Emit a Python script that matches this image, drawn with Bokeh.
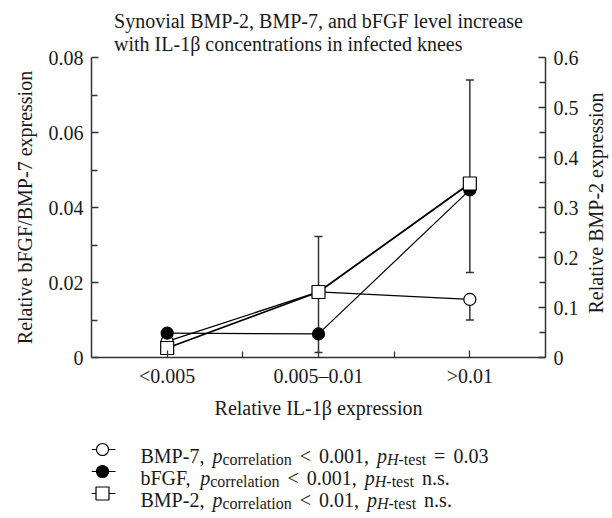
import math
from bokeh.plotting import figure
from bokeh.models import Range1d, LinearAxis, FixedTicker, Whisker, ColumnDataSource, TeeHead
from bokeh.layouts import column, row
from bokeh.embed import file_html
from bokeh.resources import INLINE
from bokeh.core.properties import value

# ---------------- data ----------------
categories = ["<0.005", "0.005\u20130.01", ">0.01"]
bmp7 = [0.0043, 0.0175, 0.0155]          # left axis
bfgf = [0.0065, 0.0063, 0.0447]          # left axis
bmp2 = [0.019, 0.131, 0.348]             # right axis
bmp2_err_hi = [None, 0.242, 0.555]
bmp2_err_lo = [None, 0.010, 0.170]
bmp7_err_lo = [None, None, 0.0100]

left_ticks = [0, 0.02, 0.04, 0.06, 0.08]
left_labels = ["0", "0.02", "0.04", "0.06", "0.08"]
right_ticks = [0, 0.1, 0.2, 0.3, 0.4, 0.5, 0.6]
right_labels = ["0", "0.1", "0.2", "0.3", "0.4", "0.5", "0.6"]

title_text = "Synovial BMP-2, BMP-7, and bFGF level increase\nwith IL-1\u03b2 concentrations in infected knees"
xlabel = "Relative IL-1\u03b2 expression"
ylabel_left = "Relative bFGF/BMP-7 expression"
ylabel_right = "Relative BMP-2 expression"

legend_names = ["BMP-7,", "bFGF,", "BMP-2,"]
legend_pcorr = ["< 0.001,", "< 0.001,", "< 0.01,"]
legend_htest = ["= 0.03", "n.s.", "n.s."]

FONT = "Liberation Serif"
INK = "#1a1a1a"
AX = "#333333"

xs = [i + 1 for i in range(len(categories))]

W, H_MAIN, H_LEG = 612, 427, 91
W_SIDE = 30                      # strip to the right carrying the right-axis title
BL, BR, BT, BB = 91, 67, 57, 70

# ---------------- main figure ----------------
p = figure(width=W - W_SIDE, height=H_MAIN, x_range=Range1d(0.5, 3.5), y_range=Range1d(0, 0.08),
           output_backend="svg", toolbar_location=None,
           min_border_left=BL, min_border_right=BR - W_SIDE, min_border_top=BT, min_border_bottom=BB)
p.extra_y_ranges = {"right": Range1d(0, 0.6)}
p.add_layout(LinearAxis(y_range_name="right"), "right")

p.outline_line_color = None
p.xgrid.visible = False
p.ygrid.visible = False

p.title.text = title_text
p.title.align = "center"
p.title.text_font = FONT
p.title.text_font_size = "20px"
p.title.text_font_style = "normal"
p.title.text_color = INK
p.title.text_line_height = 1.05
p.title.standoff = 4

for ax in p.axis:
    ax.axis_line_color = AX
    ax.axis_line_width = 1.5
    ax.major_tick_line_color = AX
    ax.minor_tick_line_color = AX
    ax.major_tick_line_width = 1.3
    ax.minor_tick_line_width = 1.3
    ax.major_tick_in = 7
    ax.major_tick_out = 0
    ax.minor_tick_in = 6
    ax.minor_tick_out = 0
    ax.major_label_text_font = FONT
    ax.major_label_text_font_size = "20px"
    ax.major_label_text_color = INK
    ax.axis_label_text_font = FONT
    ax.axis_label_text_font_size = "20px"
    ax.axis_label_text_font_style = "normal"
    ax.axis_label_text_color = INK

xa = p.xaxis[0]
xa.ticker = FixedTicker(ticks=xs, minor_ticks=[1.5, 2.5])
xa.major_label_overrides = {x: c for x, c in zip(xs, categories)}
xa.axis_label = xlabel
xa.major_label_standoff = 7
xa.axis_label_standoff = 7

la = p.yaxis[0]
la.ticker = FixedTicker(ticks=left_ticks, minor_ticks=[0.01, 0.03, 0.05, 0.07])
la.major_label_overrides = {t: l for t, l in zip(left_ticks, left_labels)}
la.axis_label = ylabel_left
la.major_label_standoff = 8
la.axis_label_standoff = 10

ra = p.yaxis[1]
ra.ticker = FixedTicker(ticks=right_ticks, minor_ticks=[0.05, 0.15, 0.25, 0.35, 0.45, 0.55])
ra.major_label_overrides = {t: l for t, l in zip(right_ticks, right_labels)}
ra.major_label_standoff = 8

# error bars
def pts(vals_hi, vals_lo, centers):
    X, Hh, L = [], [], []
    for x, h, l, c in zip(xs, vals_hi, vals_lo, centers):
        if h is None and l is None:
            continue
        X.append(x)
        Hh.append(c if h is None else h)
        L.append(c if l is None else l)
    return ColumnDataSource(dict(x=X, hi=Hh, lo=L))

w2 = Whisker(base="x", upper="hi", lower="lo", source=pts(bmp2_err_hi, bmp2_err_lo, bmp2),
             y_range_name="right", line_color=AX, line_width=1.5,
             upper_head=TeeHead(size=8, line_color=AX, line_width=1.5),
             lower_head=TeeHead(size=8, line_color=AX, line_width=1.5))
p.add_layout(w2)
w7 = Whisker(base="x", upper="hi", lower="lo", source=pts([None] * 3, bmp7_err_lo, bmp7),
             line_color=AX, line_width=1.5, upper_head=None,
             lower_head=TeeHead(size=8, line_color=AX, line_width=1.5))
p.add_layout(w7)

# lines
p.line(xs, bfgf, line_color="black", line_width=1.2)
p.line(xs, bmp7, line_color="black", line_width=1.3)
p.line(xs, bmp2, line_color="black", line_width=1.8, y_range_name="right")

# markers
p.scatter(xs, bmp7, marker="circle", size=12, fill_color="white", line_color="black", line_width=1.2)
p.scatter(xs, bfgf, marker="circle", size=12, fill_color="black", line_color="black", line_width=1.2)
p.scatter(xs, bmp2, marker="square", size=13, fill_color="white", line_color="black", line_width=1.2,
          y_range_name="right")

# ---------------- right strip: right-axis title ----------------
side = figure(width=W_SIDE, height=H_MAIN, x_range=Range1d(0, W_SIDE), y_range=Range1d(0, H_MAIN),
              output_backend="svg", toolbar_location=None,
              x_axis_location=None, y_axis_location=None, min_border=0)
side.xgrid.visible = False
side.ygrid.visible = False
side.outline_line_color = None
frame_mid = BB + (H_MAIN - BT - BB) / 2.0
side.text(x=[13], y=[frame_mid], text=[ylabel_right], angle=math.pi / 2,
          text_align="center", text_baseline="middle", text_font=value(FONT),
          text_font_size="20px", text_color=INK)

# ---------------- legend figure ----------------
frame_w = W - BL - BR
leg = figure(width=W, height=H_LEG, x_range=Range1d(0, frame_w), y_range=Range1d(0, H_LEG),
             output_backend="svg", toolbar_location=None,
             x_axis_location=None, y_axis_location=None,
             min_border_left=BL, min_border_right=BR, min_border_top=0, min_border_bottom=0)
leg.xgrid.visible = False
leg.ygrid.visible = False
leg.outline_line_color = None

W_REG = {"B": 667, "M": 889, "P": 556, "-": 333, "7": 500, ",": 250, " ": 250, "b": 500,
         "F": 556, "G": 722, "c": 444, "o": 500, "r": 333, "e": 444, "l": 278, "a": 444,
         "t": 278, "i": 278, "n": 500, "<": 564, "0": 500, ".": 250, "1": 500, "=": 564,
         "3": 500, "s": 389, "2": 500, "H": 722, "p": 500}
W_IT = {"p": 500, "H": 722}

def tw(s, size, italic=False):
    tab = W_IT if italic else W_REG
    return sum(tab.get(ch, W_REG.get(ch, 500)) for ch in s) * size / 1000.0

FS, SS, GAP = 20, 16, 8
row_centers = [69, 47, 25]          # legend-figure pixels from its bottom
mk_x0, mk_x1, mk_c, tx0 = 0, 24, 11, 49
markers = [("circle", "white", 12), ("circle", "black", 12), ("square", "white", 13)]

pieces = dict(x=[], y=[], text=[], size=[], style=[])
for name, pc, ht, yc in zip(legend_names, legend_pcorr, legend_htest, row_centers):
    base = yc - 6
    sub = base - 4
    parts = [(name, FS, "normal", base, 0), ("p", FS, "italic", base, GAP),
             ("correlation", SS, "normal", sub, 0)]
    parts += [(tok, FS, "normal", base, GAP) for tok in pc.split(" ")]
    parts += [("p", FS, "italic", base, GAP), ("H", SS, "italic", sub, 0),
              ("-test", SS, "normal", sub, 0)]
    parts += [(tok, FS, "normal", base, GAP) for tok in ht.split(" ")]
    x = tx0
    for txt, sz, st, yy, gap in parts:
        x += gap
        pieces["x"].append(x)
        pieces["y"].append(yy)
        pieces["text"].append(txt)
        pieces["size"].append("%gpx" % sz)
        pieces["style"].append(st)
        x += tw(txt, sz, st == "italic")

for (mk, fill, sz), yc in zip(markers, row_centers):
    leg.segment(x0=[mk_x0], y0=[yc], x1=[mk_x1], y1=[yc], line_color="black", line_width=1.2)
    leg.scatter([mk_c], [yc], marker=mk, size=sz, fill_color=fill, line_color="black", line_width=1.2)

src = ColumnDataSource(pieces)
leg.text(x="x", y="y", text="text", source=src, text_font=value(FONT),
         text_font_size="size", text_font_style="style", text_color=INK,
         text_baseline="alphabetic", text_align="left")

layout = column(row(p, side, spacing=0), leg, spacing=0)
open("out.html", "w").write(file_html(layout, INLINE))
